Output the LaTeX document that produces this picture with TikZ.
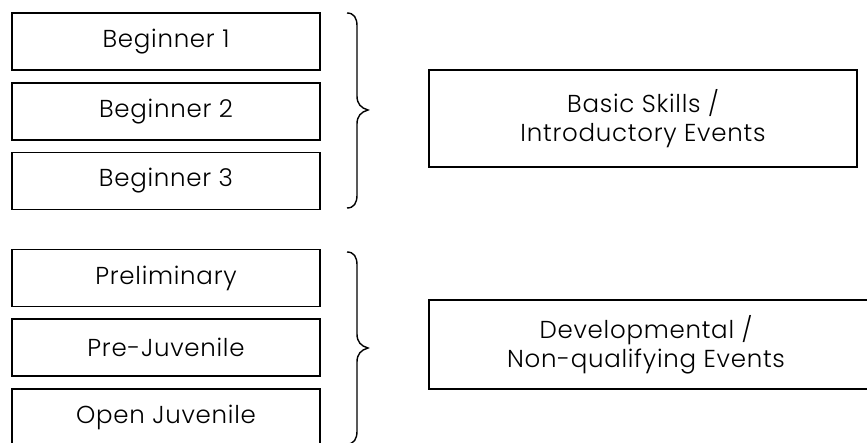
\documentclass[tikz,border=0pt]{standalone}
\usepackage{fontspec}
\setmainfont{Poppins}[UprightFont=* Light,LetterSpace=3]
\begin{document}
\begin{tikzpicture}[x=1pt,y=-1pt,
  lbox/.style={draw=black,line width=1.4pt,minimum width=308pt,minimum height=57pt,inner sep=0pt,font=\fontsize{24.5}{29}\selectfont},
  rbox/.style={draw=black,line width=1.4pt,inner sep=0pt},
  rtext/.style={align=center,inner sep=0pt,font=\fontsize{24.5}{29}\selectfont},
  bracepath/.style={draw=black,line width=1.4pt}]
\path[use as bounding box] (0,0) rectangle (867,443);
\clip (0,0) rectangle (867,443);
\node[lbox] (b1) at (166,41.5) {Beginner 1};
\node[lbox] (b2) at (166,111.5) {Beginner 2};
\node[lbox] (b3) at (166,181) {Beginner 3};
\node[lbox] (p1) at (166,278) {Preliminary};
\node[lbox] (p2) at (166,347.5) {Pre-Juvenile};
\node[lbox] (p3) at (166,417.5) {Open Juvenile};
\node[rbox,minimum width=428pt,minimum height=97pt,align=center,font=\fontsize{24.5}{29}\selectfont] (basic) at (643,118.5) {Basic Skills /\\Introductory Events};
\node[rbox,minimum width=451pt,minimum height=89pt] (dbox) at (654.5,344.5) {};
\node[rtext] (dtext) at (646,344.5) {Developmental /\\Non-qualifying Events};
% braces
\draw[bracepath] (347,13) .. controls (354,13) and (357,18) .. (357,26)
  -- (357,96) .. controls (357,104) and (361,108) .. (368,110)
  .. controls (361,112) and (357,116) .. (357,124)
  -- (357,195) .. controls (357,203) and (354,208) .. (347,208);
\draw[bracepath] (347,252) .. controls (354,252) and (357,257) .. (357,265)
  -- (357,334) .. controls (357,342) and (361,346) .. (368,348)
  .. controls (361,350) and (357,354) .. (357,362)
  -- (357,431) .. controls (357,439) and (354,444) .. (347,444);
\end{tikzpicture}
\end{document}
